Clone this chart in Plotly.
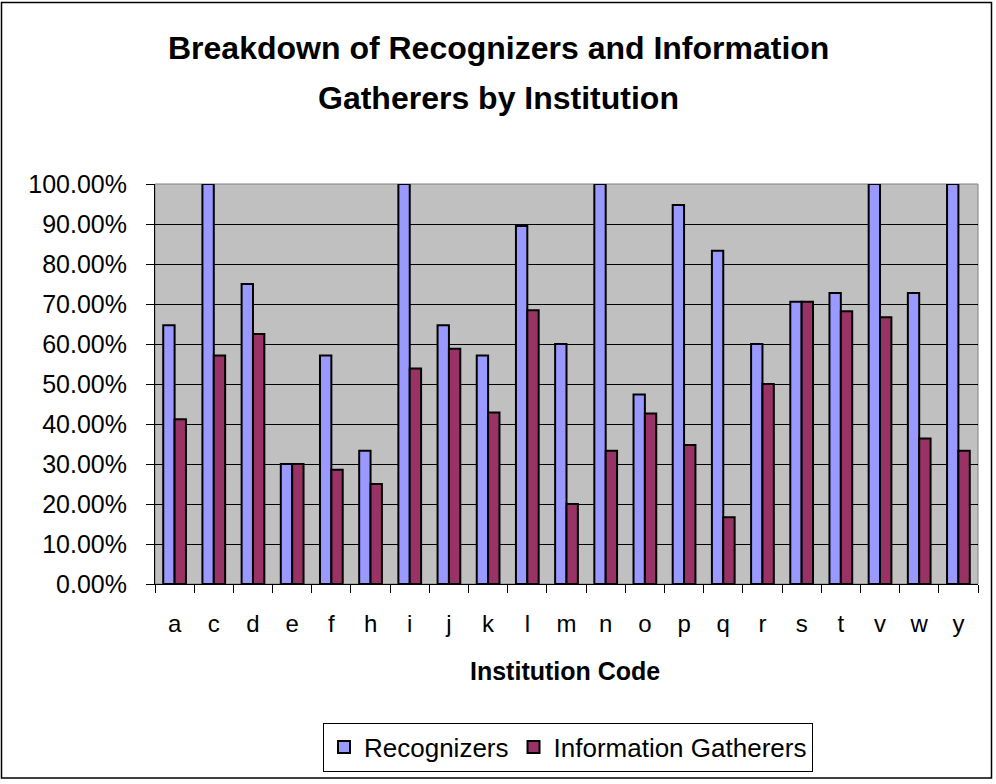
import plotly.graph_objects as go

categories = ["a", "c", "d", "e", "f", "h", "i", "j", "k", "l", "m",
              "n", "o", "p", "q", "r", "s", "t", "v", "w", "y"]
recognizers = [0.6471, 1.0, 0.75, 0.30, 0.5714, 0.3333, 1.0, 0.6471, 0.5714, 0.8947, 0.60,
               1.0, 0.4737, 0.9474, 0.8333, 0.60, 0.7059, 0.7273, 1.0, 0.7273, 1.0]
info_gatherers = [0.4118, 0.5714, 0.625, 0.30, 0.2857, 0.25, 0.5385, 0.5882, 0.4286, 0.6842, 0.20,
                  0.3333, 0.426, 0.3478, 0.1667, 0.50, 0.7059, 0.682, 0.6667, 0.3636, 0.3333]
y_ticks = [0, 0.1, 0.2, 0.3, 0.4, 0.5, 0.6, 0.7, 0.8, 0.9, 1.0]

W, H = 996, 784
L, R, T, B = 155, 978, 184, 586
FONT = "Liberation Sans, Arial, sans-serif"


def px_x(px):
    return (px - L) / (R - L)


def px_y(py):
    return (B - py) / (B - T)


fig = go.Figure()
fig.add_trace(go.Bar(x=categories, y=recognizers, name="Recognizers",
                     marker=dict(color="#9999FF", line=dict(color="black", width=2))))
fig.add_trace(go.Bar(x=categories, y=info_gatherers, name="Information Gatherers",
                     marker=dict(color="#993366", line=dict(color="black", width=2))))

fig.update_layout(
    width=W, height=H,
    margin=dict(l=L, r=W - R, t=T, b=H - B, pad=0),
    paper_bgcolor="white", plot_bgcolor="#C0C0C0",
    barmode="group", bargap=0.42, bargroupgap=0,
    font=dict(family=FONT, color="black", size=24),
    showlegend=True,
    legend=dict(orientation="h", x=px_x(568), xanchor="center", y=px_y(750), yanchor="middle",
                bordercolor="black", borderwidth=1, bgcolor="white",
                font=dict(size=26, family=FONT), traceorder="normal",
                itemsizing="constant"),
)
fig.update_yaxes(range=[0, 1], tickvals=y_ticks, tickformat=".2%",
                 showgrid=True, gridcolor="black", gridwidth=1,
                 showline=True, linecolor="black", linewidth=1,
                 ticks="outside", ticklen=8, tickcolor="black", tickwidth=1,
                 ticklabelstandoff=14, zeroline=False,
                 tickfont=dict(size=25, family=FONT))
fig.update_xaxes(showline=True, linecolor="black", linewidth=1,
                 ticks="outside", ticklen=8, tickcolor="black", tickwidth=1,
                 tickson="boundaries", showgrid=False,
                 ticklabelstandoff=18,
                 tickfont=dict(size=24, family=FONT))

# plot-area frame (gray) and chart outer border
fig.add_shape(type="rect", xref="paper", yref="paper", x0=0, x1=1, y0=0, y1=1,
              line=dict(color="#808080", width=1), layer="below")
fig.add_shape(type="rect", xref="paper", yref="paper",
              x0=px_x(1.5), x1=px_x(991.5), y0=px_y(781), y1=px_y(1.5),
              line=dict(color="black", width=1.5))

fig.add_annotation(text="<b>Breakdown of Recognizers and Information</b>",
                   xref="paper", yref="paper", x=px_x(498), y=px_y(47),
                   xanchor="center", yanchor="middle", showarrow=False,
                   font=dict(size=32, family=FONT))
fig.add_annotation(text="<b>Gatherers by Institution</b>",
                   xref="paper", yref="paper", x=px_x(498), y=px_y(98),
                   xanchor="center", yanchor="middle", showarrow=False,
                   font=dict(size=32, family=FONT))
fig.add_annotation(text="<b>Institution Code</b>",
                   xref="paper", yref="paper", x=px_x(565), y=px_y(673),
                   xanchor="center", yanchor="middle", showarrow=False,
                   font=dict(size=25, family=FONT))

fig.write_html("out.html", config={"displayModeBar": False},
               post_script="document.body.style.margin='0';")
